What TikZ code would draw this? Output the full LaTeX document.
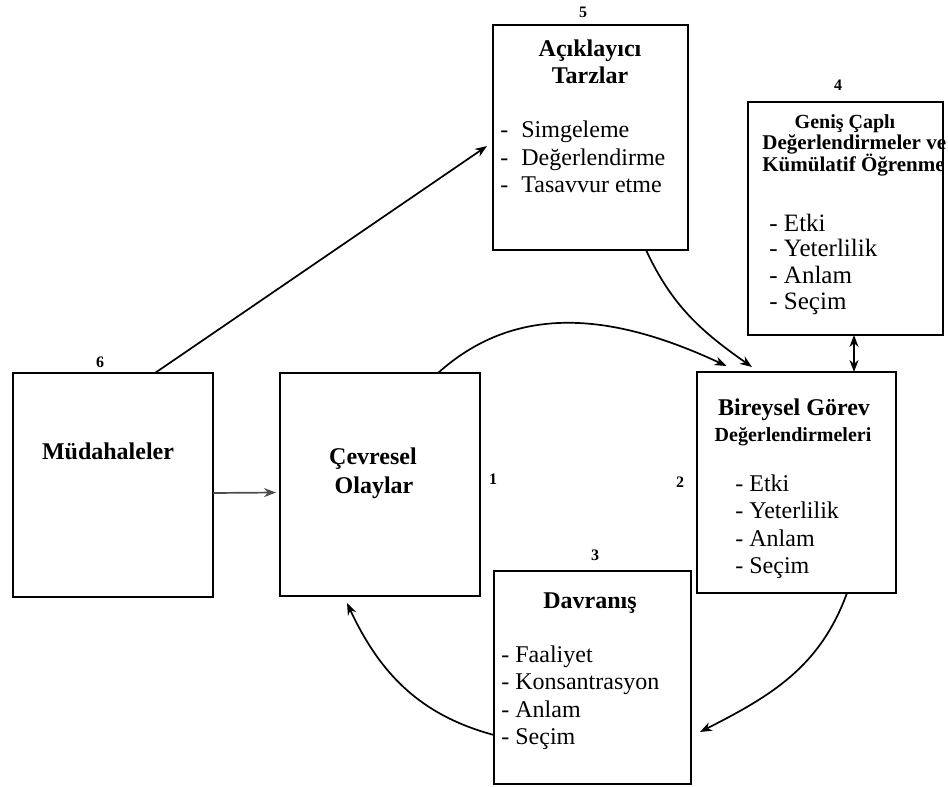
\documentclass[tikz,border=0pt]{standalone}
\usepackage{fontspec}
\setmainfont{Liberation Serif}
\usetikzlibrary{arrows.meta}

\begin{document}
\begin{tikzpicture}[x=0.5pt, y=0.5pt, >={Stealth[length=6pt, width=4.5pt]},
    cerceve/.style={draw, line width=1.2pt, inner sep=0pt, outer sep=0pt},
    baslik/.style={font=\bfseries\fontsize{12}{14}\selectfont, inner sep=0pt, text height=0.66em, text depth=0pt},
    altbaslik/.style={font=\bfseries\fontsize{10}{12}\selectfont, inner sep=0pt, text height=0.66em, text depth=0pt},
    madde/.style={font=\fontsize{12}{14}\selectfont, anchor=west, inner sep=0pt, text height=0.66em, text depth=0pt},
    numara/.style={font=\bfseries\fontsize{8}{9}\selectfont, inner sep=0pt},
    ok/.style={->, line width=0.85pt}]

\useasboundingbox (0,0) rectangle (948,-787);

% Macro to draw a framed box from its corners (picture pixels, y down)
% Usage: \kutu{name}{x1}{y1}{x2}{y2}
\newcommand{\kutu}[5]{
    \node[cerceve, minimum width={(#4-#2)*0.5pt}, minimum height={(#5-#3)*0.5pt}]
        (#1) at ({(#2+#4)/2}, {-(#3+#5)/2}) {};
}

% --- Boxes ---
\kutu{aciklayici}{493}{25}{688}{250}
\kutu{genis}{748}{102}{943}{335}
\kutu{mudahale}{13}{373}{213}{597}
\kutu{cevre}{280}{373}{480}{596}
\kutu{bireysel}{697}{372}{896}{593}
\kutu{davranis}{494}{571}{691}{784}

% --- Box 5: Aciklayici Tarzlar ---
\node[numara] (no5) at (583,-12) {5};
\node[baslik] (aciklayici-b1) at (590,-50) {Açıklayıcı};
\node[baslik] (aciklayici-b2) at (590,-77) {Tarzlar};
\foreach \y/\txt [count=\i] in {131/Simgeleme, 159/Değerlendirme, 186/Tasavvur etme} {
    \node[madde] (aciklayici-\i) at (500,-\y) {-\hspace{6.5pt}\txt};
}

% --- Box 4: Genis Capli ---
\node[numara] (no4) at (838,-85) {4};
\node[altbaslik] (genis-b1) at (845,-122) {Geniş Çaplı};
\node[altbaslik, anchor=west, font=\bfseries\fontsize{10.5}{12}\selectfont] (genis-b2) at (762,-143) {Değerlendirmeler ve};
\node[altbaslik, anchor=west, font=\bfseries\fontsize{10.5}{12}\selectfont] (genis-b3) at (762,-165) {Kümülatif Öğrenme};
\foreach \y/\txt [count=\i] in {225/Etki, 250/Yeterlilik, 277/Anlam, 303/Seçim} {
    \node[madde, font=\fontsize{12.5}{14}\selectfont] (genis-\i) at (769,-\y) {- \txt};
}

% --- Box 6: Mudahaleler ---
\node[numara] (no6) at (100,-362) {6};
\node[baslik] (mudahale-b) at (108,-453) {Müdahaleler};

% --- Box 1: Cevresel Olaylar ---
\node[numara] (no1) at (493,-479) {1};
\node[baslik] (cevre-b1) at (373,-458) {Çevresel};
\node[baslik] (cevre-b2) at (374,-487) {Olaylar};

% --- Box 2: Bireysel Gorev ---
\node[numara] (no2) at (680,-482) {2};
\node[baslik] (bireysel-b1) at (794,-409) {Bireysel Görev};
\node[altbaslik] (bireysel-b2) at (793,-435) {Değerlendirmeleri};
\foreach \y/\txt [count=\i] in {485/Etki, 512/Yeterlilik, 540/Anlam, 567/Seçim} {
    \node[madde] (bireysel-\i) at (735,-\y) {- \txt};
}

% --- Box 3: Davranis ---
\node[numara] (no3) at (595,-555) {3};
\node[baslik] (davranis-b) at (590,-602) {Davranış};
\foreach \y/\txt [count=\i] in {656/Faaliyet, 683/Konsantrasyon, 711/Anlam, 738/Seçim} {
    \node[madde] (davranis-\i) at (501,-\y) {- \txt};
}

% --- Connectors ---
\draw[ok, draw=black!70] ([yshift=-4pt]mudahale.east) -- ([yshift=-4pt, xshift=-2pt]cevre.west);
\draw[ok] ([xshift=21pt]mudahale.north) -- ([xshift=-3pt, yshift=-4.25pt]aciklayici.west);
\draw[ok] ([xshift=29pt]cevre.north) to[out=42, in=155] ([xshift=-35pt, yshift=3pt]bireysel.north);
\draw[ok] ([xshift=27.75pt]aciklayici.south) to[out=-65, in=145] ([xshift=-22.25pt, yshift=2.5pt]bireysel.north);
\draw[<->, line width=0.85pt] ([xshift=4.25pt]genis.south) -- ([xshift=4.25pt]genis.south |- bireysel.north);
\draw[ok] ([xshift=25.25pt]bireysel.south) to[out=-110, in=27] ([xshift=4.5pt, yshift=-27.25pt]davranis.east);
\draw[ok] ([yshift=-28.75pt]davranis.west) to[out=165, in=-65] ([xshift=-16.5pt, yshift=-3.5pt]cevre.south);

\end{tikzpicture}
\end{document}
